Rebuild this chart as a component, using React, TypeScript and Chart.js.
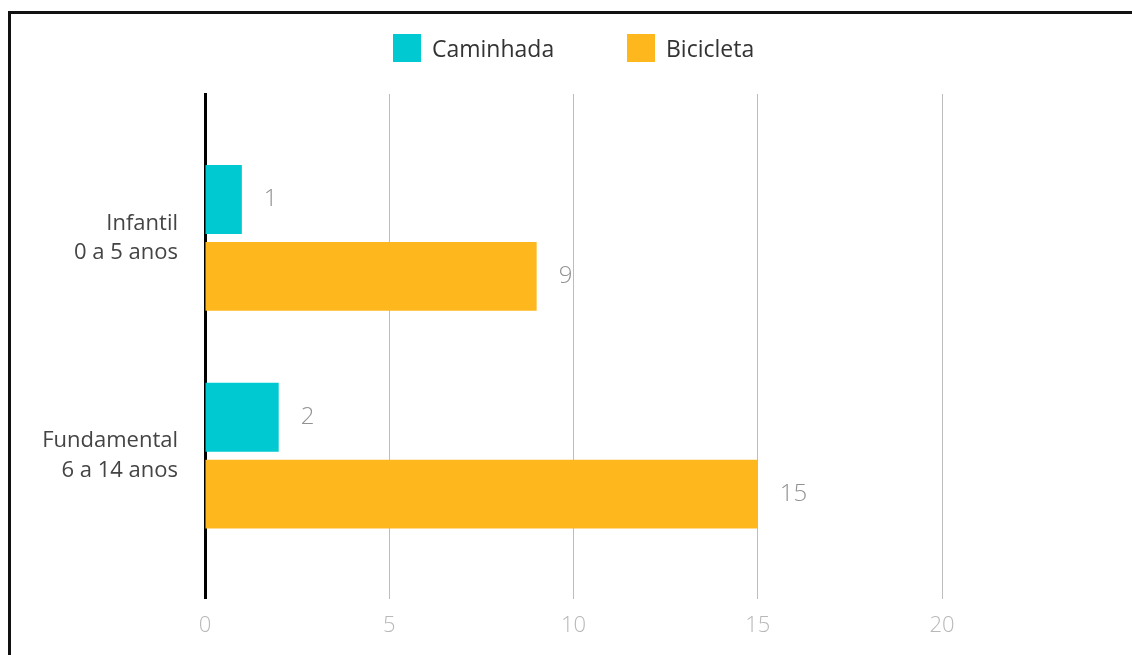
import React, { useEffect, useRef } from "react";
import { Chart, registerables } from "chart.js";

Chart.register(...registerables);

const categories: string[][] = [
  ["Infantil", "0 a 5 anos"],
  ["Fundamental", "6 a 14 anos"],
];
const categoryPositions = [0, 1];
const seriesNames = ["Caminhada", "Bicicleta"];
const caminhada = [1, 2];
const bicicleta = [9, 15];
const xTicks = [0, 5, 10, 15, 20];
const seriesColors = ["#00C9D2", "#FEB81E"];

const FONT = "'Open Sans', 'Noto Sans', sans-serif";

const valueLabels = {
  id: "valueLabels",
  afterDatasetsDraw(chart: any) {
    const ctx = chart.ctx;
    ctx.save();
    ctx.fillStyle = "#929292";
    ctx.font = `300 24px ${FONT}`;
    ctx.textAlign = "left";
    ctx.textBaseline = "middle";
    chart.data.datasets.forEach((ds: any, di: number) => {
      const meta = chart.getDatasetMeta(di);
      meta.data.forEach((bar: any, i: number) => {
        const v = ds.data[i].x;
        ctx.fillText(String(v), bar.x + 22, bar.y);
      });
    });
    ctx.restore();
  },
};

export default function App() {
  const ref = useRef<HTMLCanvasElement | null>(null);

  useEffect(() => {
    if (!ref.current) return;
    const series = [caminhada, bicicleta];
    const chart = new Chart(ref.current, {
      type: "bar",
      data: {
        datasets: series.map((vals, si) => ({
          label: seriesNames[si],
          data: vals.map((v, i) => ({ x: v, y: categoryPositions[i] })),
          backgroundColor: seriesColors[si],
          borderWidth: 0,
          categoryPercentage: 0.706,
          barPercentage: 0.896,
        })),
      },
      options: {
        indexAxis: "y",
        animation: false,
        responsive: false,
        devicePixelRatio: 1,
        layout: { padding: { top: 94, right: 190, bottom: 2, left: 0 } },
        plugins: {
          legend: { display: false },
          tooltip: { enabled: false },
        },
        scales: {
          x: {
            type: "linear",
            min: 0,
            max: 20,
            afterBuildTicks: (scale: any) => {
              scale.ticks = xTicks.map((v) => ({ value: v }));
            },
            border: { display: false },
            grid: {
              drawTicks: false,
              color: (c: any) =>
                c.tick && c.tick.value === 0 ? "rgba(0,0,0,0)" : "#bdbdbd",
              lineWidth: 1,
            },
            ticks: {
              color: "#b8b8b8",
              padding: 14,
              font: { family: FONT, size: 22, weight: "300" },
            },
          },
          y: {
            type: "linear",
            reverse: true,
            offset: false,
            min: -0.661,
            max: 1.656,
            z: 1,
            afterBuildTicks: (scale: any) => {
              scale.ticks = categoryPositions.map((v) => ({ value: v }));
            },
            afterFit: (scale: any) => {
              scale.width = 205;
              scale.paddingTop = 0;
              scale.paddingBottom = 0;
            },
            border: { display: true, color: "#000", width: 3 },
            grid: { display: false, drawTicks: false },
            ticks: {
              color: "#444",
              padding: 27,
              font: { family: FONT, size: 22, lineHeight: 1.32 },
              callback: (v: any) => {
                const idx = categoryPositions.indexOf(Number(v));
                return idx >= 0 ? categories[idx] : "";
              },
            },
          },
        },
      } as any,
      plugins: [valueLabels],
    });
    return () => chart.destroy();
  }, []);

  return (
    <div>
      <div
        style={{
          position: "fixed",
          left: 8,
          top: 11,
          width: 1200,
          height: 800,
          border: "3px solid #111",
          boxSizing: "border-box",
        }}
      />
      <canvas
        ref={ref}
        width={1132}
        height={655}
        style={{ position: "fixed", left: 0, top: 0, width: 1132, height: 655 }}
      />
      <div
        style={{
          position: "fixed",
          left: 393,
          top: 34,
          display: "flex",
          alignItems: "center",
          fontFamily: FONT,
          fontSize: 23,
          color: "#333",
        }}
      >
        {seriesNames.map((name, i) => (
          <div
            key={name}
            style={{ display: "flex", alignItems: "center", width: 234 }}
          >
            <span
              style={{
                display: "inline-block",
                width: 28,
                height: 28,
                background: seriesColors[i],
              }}
            />
            <span style={{ marginLeft: 11, lineHeight: "28px" }}>{name}</span>
          </div>
        ))}
      </div>
    </div>
  );
}
